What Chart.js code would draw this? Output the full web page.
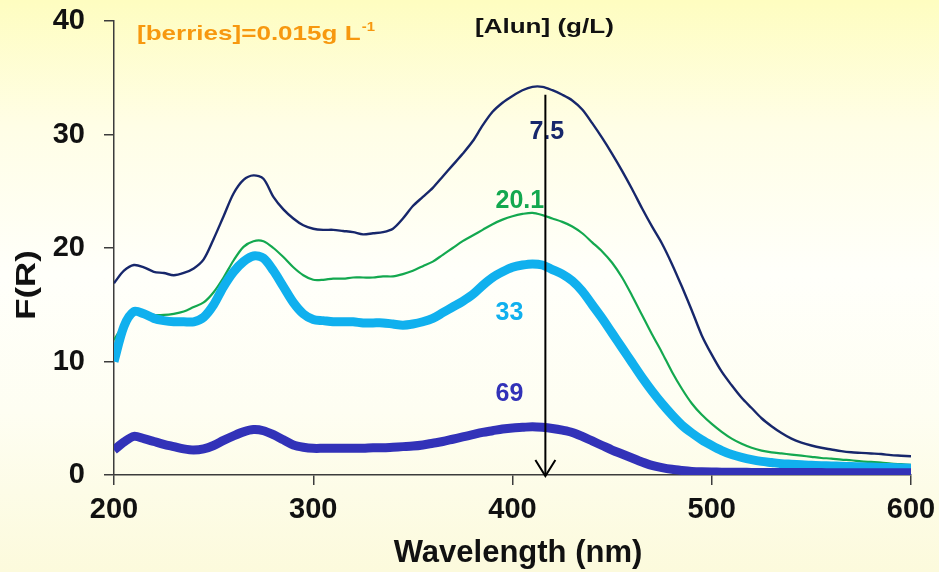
<!DOCTYPE html>
<html>
<head>
<meta charset="utf-8">
<title>F(R) vs Wavelength</title>
<script src="https://cdn.jsdelivr.net/npm/chart.js@4.4.0/dist/chart.umd.min.js"></script>
<style>
  html, body { margin: 0; padding: 0; }
  body {
    width: 939px; height: 572px; overflow: hidden;
    background: linear-gradient(to bottom, #fefdc0 0%, #fffee6 22%, #fffffa 48%, #fefef2 72%, #fcfadc 100%);
  }
  #spectra { display: block; }
</style>
</head>
<body>
<canvas id="spectra" width="939" height="572"></canvas>
<script>
// --- datos (paso de 5 nm) ---
const wavelengths = [
  200, 205, 210, 215, 220, 225, 230, 235, 240, 245,
  250, 255, 260, 265, 270, 275, 280, 285, 290, 295,
  300, 305, 310, 315, 320, 325, 330, 335, 340, 345,
  350, 355, 360, 365, 370, 375, 380, 385, 390, 395,
  400, 405, 410, 415, 420, 425, 430, 435, 440, 445,
  450, 455, 460, 465, 470, 475, 480, 485, 490, 495,
  500, 505, 510, 515, 520, 525, 530, 535, 540, 545,
  550, 555, 560, 565, 570, 575, 580, 585, 590, 595, 600
];

// [Alun] = 7.5 g/L
const alun7_5 = [
  16.9, 18.0, 18.5, 18.3, 17.9, 17.8, 17.6, 17.8, 18.2, 19.0,
  20.8, 22.8, 24.8, 26.0, 26.4, 26.1, 24.5, 23.4, 22.6, 22.0,
  21.7, 21.6, 21.6, 21.5, 21.4, 21.2, 21.3, 21.4, 21.7, 22.6,
  23.7, 24.5, 25.3, 26.3, 27.3, 28.3, 29.4, 30.8, 32.0, 32.8,
  33.4, 33.9, 34.2, 34.2, 33.9, 33.5, 33.0, 32.2, 31.0, 29.7,
  28.3, 26.8, 25.2, 23.5, 21.9, 20.4, 18.6, 16.6, 14.5, 12.3,
  10.6, 9.1, 7.9, 6.8, 5.9, 5.0, 4.3, 3.7, 3.2, 2.85,
  2.6, 2.4, 2.25, 2.1, 2.0, 1.95, 1.9, 1.85, 1.75, 1.7, 1.65
];

// [Alun] = 20.1 g/L
const alun20_1 = [
  11.9, 13.3, 14.3, 14.3, 14.1, 14.1, 14.2, 14.4, 14.8, 15.2,
  16.1, 17.4, 18.9, 20.1, 20.6, 20.6, 20.0, 19.2, 18.3, 17.6,
  17.2, 17.2, 17.3, 17.3, 17.4, 17.4, 17.4, 17.5, 17.5, 17.7,
  18.0, 18.4, 18.8, 19.4, 20.0, 20.6, 21.1, 21.6, 22.1, 22.5,
  22.8, 23.0, 23.1, 22.9, 22.6, 22.3, 21.9, 21.3, 20.5, 19.7,
  18.7, 17.4, 15.8, 14.1, 12.4, 10.8, 9.1, 7.6, 6.3, 5.3,
  4.5, 3.8, 3.2, 2.75, 2.4, 2.15, 2.0, 1.9, 1.8, 1.7,
  1.6, 1.5, 1.45, 1.35, 1.3, 1.2, 1.15, 1.1, 1.0, 0.95, 0.9
];

// [Alun] = 33 g/L
const alun33 = [
  10.0, 13.1, 14.4, 14.2, 13.8, 13.6, 13.5, 13.5, 13.5, 13.9,
  15.0, 16.6, 17.9, 18.8, 19.3, 19.1, 18.0, 16.6, 15.2, 14.2,
  13.7, 13.6, 13.5, 13.5, 13.5, 13.4, 13.4, 13.4, 13.3, 13.2,
  13.3, 13.5, 13.8, 14.3, 14.8, 15.3, 15.9, 16.7, 17.4, 17.9,
  18.3, 18.5, 18.6, 18.5, 18.1, 17.7, 17.1, 16.2, 15.0, 13.8,
  12.5, 11.2, 9.9, 8.6, 7.4, 6.3, 5.3, 4.4, 3.7, 3.1,
  2.6, 2.15, 1.8, 1.55, 1.35, 1.2, 1.1, 1.0, 0.95, 0.9,
  0.85, 0.82, 0.8, 0.77, 0.75, 0.72, 0.7, 0.67, 0.65, 0.62, 0.6
];

// [Alun] = 69 g/L
const alun69 = [
  2.2, 2.9, 3.4, 3.2, 2.95, 2.7, 2.5, 2.3, 2.2, 2.3,
  2.6, 3.05, 3.45, 3.8, 4.0, 3.9, 3.55, 3.1, 2.65, 2.45,
  2.35, 2.35, 2.35, 2.35, 2.35, 2.35, 2.4, 2.4, 2.45, 2.5,
  2.55, 2.65, 2.8, 2.95, 3.15, 3.35, 3.55, 3.75, 3.9, 4.05,
  4.15, 4.2, 4.25, 4.2, 4.1, 3.95, 3.75, 3.4, 3.0, 2.6,
  2.2, 1.85, 1.5, 1.15, 0.85, 0.65, 0.5, 0.4, 0.32, 0.28,
  0.26, 0.25, 0.24, 0.24, 0.23, 0.23, 0.22, 0.22, 0.22, 0.21,
  0.21, 0.21, 0.2, 0.2, 0.2, 0.2, 0.2, 0.2, 0.2, 0.2, 0.2
];

// flecha vertical (x en nm, y en F(R))
const arrowX = [416.5, 416.5];
const arrowY = [33.5, 0];

// etiquetas de concentración y su posición (nm, F(R))
const seriesLabels = ['7.5', '20.1', '33', '69'];
const labelX = [408.5, 391.5, 391.5, 391.5];
const labelY = [30.2, 24.1, 14.3, 7.1];

const xTicks = [200, 300, 400, 500, 600];
const yTicks = [0, 10, 20, 30, 40];

const COLORS = {
  navy: '#17276b',
  green: '#13a84f',
  cyan: '#10b0ee',
  purple: '#3232b8',
  orange: '#f7980f'
};
const labelColors = [COLORS.navy, COLORS.green, COLORS.cyan, COLORS.purple];

function toPoints(xs, ys) {
  return xs.map((x, i) => ({ x: x, y: ys[i] }));
}

// --- plugin: textos, títulos de ejes y punta de flecha ---
const annotations = {
  id: 'annotations',
  beforeDatasetsDraw(chart) {
    const { ctx, scales } = chart;
    ctx.save();
    ctx.font = 'bold 25px "Liberation Sans", Arial, sans-serif';
    ctx.textBaseline = 'middle';
    ctx.textAlign = 'left';
    seriesLabels.forEach((txt, i) => {
      ctx.fillStyle = labelColors[i];
      ctx.fillText(txt, scales.x.getPixelForValue(labelX[i]), scales.y.getPixelForValue(labelY[i]));
    });
    ctx.restore();
  },
  afterDatasetsDraw(chart) {
    const { ctx, scales } = chart;
    // punta de flecha abierta
    const tx = scales.x.getPixelForValue(arrowX[1]);
    const ty = scales.y.getPixelForValue(arrowY[1]) + 1;
    ctx.save();
    ctx.strokeStyle = '#000';
    ctx.lineWidth = 2;
    ctx.beginPath();
    ctx.moveTo(tx - 10, ty - 16);
    ctx.lineTo(tx, ty);
    ctx.lineTo(tx + 10, ty - 16);
    ctx.stroke();
    ctx.restore();
  },
  afterDraw(chart) {
    const { ctx } = chart;
    ctx.save();
    ctx.textBaseline = 'alphabetic';

    // [berries]=0.015g L-1 (texto algo ensanchado como en la figura)
    ctx.fillStyle = COLORS.orange;
    ctx.save();
    ctx.translate(137, 40);
    ctx.scale(1.24, 1);
    ctx.font = 'bold 21px "Liberation Sans", Arial, sans-serif';
    ctx.fillText('[berries]=0.015g L', 0, 0);
    const w = ctx.measureText('[berries]=0.015g L').width;
    ctx.font = 'bold 12px "Liberation Sans", Arial, sans-serif';
    ctx.fillText('-1', w + 1, -9);
    ctx.restore();

    // [Alun] (g/L)
    ctx.fillStyle = '#111';
    ctx.save();
    ctx.translate(475, 33);
    ctx.scale(1.24, 1);
    ctx.font = 'bold 21px "Liberation Sans", Arial, sans-serif';
    ctx.fillText('[Alun] (g/L)', 0, 0);
    ctx.restore();

    // título eje X
    ctx.fillStyle = '#111';
    ctx.textAlign = 'center';
    ctx.font = 'bold 31px "Liberation Sans", Arial, sans-serif';
    ctx.fillText('Wavelength (nm)', 518, 562);

    // título eje Y
    ctx.save();
    ctx.translate(35, 285);
    ctx.rotate(-Math.PI / 2);
    ctx.scale(1.24, 1);
    ctx.font = 'bold 28px "Liberation Sans", Arial, sans-serif';
    ctx.fillText('F(R)', 0, 0);
    ctx.restore();

    ctx.restore();
  }
};

const axisColor = '#3c3c3c';
const tickFont = { family: '"Liberation Sans", Arial, sans-serif', size: 29, weight: 'bold' };

const ctx = document.getElementById('spectra').getContext('2d');
const spectraChart = new Chart(ctx, {
  type: 'line',
  data: {
    datasets: [
      {
        label: 'arrow',
        data: toPoints(arrowX, arrowY),
        borderColor: '#000',
        borderWidth: 2,
        pointRadius: 0,
        order: 0
      },
      {
        label: '69',
        data: toPoints(wavelengths, alun69),
        borderColor: COLORS.purple,
        borderWidth: 9,
        pointRadius: 0,
        tension: 0.3,
        order: 1
      },
      {
        label: '33',
        data: toPoints(wavelengths, alun33),
        borderColor: COLORS.cyan,
        borderWidth: 9,
        pointRadius: 0,
        tension: 0.3,
        order: 2
      },
      {
        label: '20.1',
        data: toPoints(wavelengths, alun20_1),
        borderColor: COLORS.green,
        borderWidth: 2.2,
        pointRadius: 0,
        tension: 0.3,
        order: 3
      },
      {
        label: '7.5',
        data: toPoints(wavelengths, alun7_5),
        borderColor: COLORS.navy,
        borderWidth: 2.4,
        pointRadius: 0,
        tension: 0.3,
        order: 4
      }
    ]
  },
  options: {
    responsive: false,
    animation: false,
    devicePixelRatio: 1,
    layout: { padding: { left: 0, right: 28, top: 21, bottom: 0 } },
    plugins: {
      legend: { display: false },
      tooltip: { enabled: false }
    },
    scales: {
      x: {
        type: 'linear',
        min: 200,
        max: 600,
        afterFit: (s) => { s.height = 97; s.paddingLeft = 0; s.paddingRight = 0; },
        afterBuildTicks: (s) => { s.ticks = xTicks.map(v => ({ value: v })); },
        ticks: { color: '#111', font: tickFont, padding: 8, maxRotation: 0, autoSkip: false },
        grid: { drawOnChartArea: false, drawTicks: true, tickLength: 10, color: axisColor, lineWidth: 1.5 },
        border: { color: axisColor, width: 1.5 }
      },
      y: {
        type: 'linear',
        min: 0,
        max: 40,
        afterFit: (s) => { s.width = 114; s.paddingTop = 0; s.paddingBottom = 0; },
        afterBuildTicks: (s) => { s.ticks = yTicks.map(v => ({ value: v })); },
        ticks: { color: '#111', font: tickFont, padding: 19, autoSkip: false },
        grid: { drawOnChartArea: false, drawTicks: true, tickLength: 10, color: axisColor, lineWidth: 1.5 },
        border: { color: axisColor, width: 1.5 }
      }
    }
  },
  plugins: [annotations]
});
</script>
</body>
</html>
